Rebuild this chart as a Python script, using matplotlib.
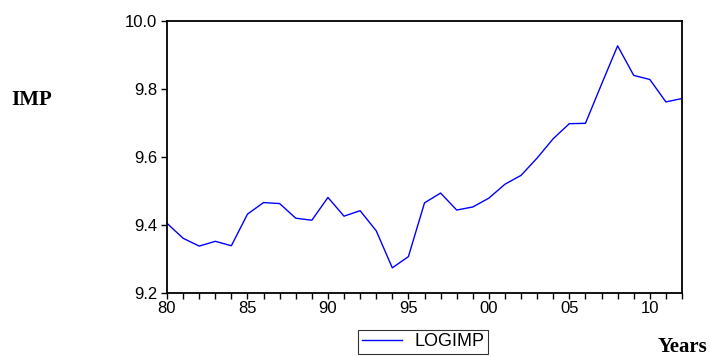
"""LOGIMP series, EViews-style line chart."""

import matplotlib
matplotlib.use("Agg")
import matplotlib.pyplot as plt
from matplotlib.ticker import MultipleLocator, FuncFormatter

years = list(range(1980, 2013))
logimp = [9.405, 9.361, 9.338, 9.352, 9.339, 9.432, 9.466, 9.463, 9.420,
          9.414, 9.481, 9.426, 9.442, 9.383, 9.274, 9.307, 9.465, 9.494,
          9.444, 9.453, 9.479, 9.520, 9.546, 9.597, 9.654, 9.698, 9.699,
          9.814, 9.927, 9.840, 9.828, 9.762, 9.772]
y_ticks = [9.2, 9.4, 9.6, 9.8, 10.0]

plt.rcParams["font.family"] = ["Liberation Sans", "DejaVu Sans"]

fig = plt.figure(figsize=(7.1, 3.56), dpi=100)
ax = fig.add_axes([167 / 710, 63 / 356, 515 / 710, 272 / 356])

line, = ax.plot(years, logimp, color="#0000ff", lw=1.0)

ax.set_xlim(1980, 2012)
ax.set_ylim(9.2, 10.0)
ax.set_yticks(y_ticks)
ax.yaxis.set_major_formatter(FuncFormatter(lambda v, p: f"{v:.1f}"))
ax.xaxis.set_major_locator(MultipleLocator(5))
ax.xaxis.set_minor_locator(MultipleLocator(1))
ax.xaxis.set_major_formatter(FuncFormatter(lambda v, p: f"{int(v) % 100:02d}"))

ax.tick_params(axis="both", which="both", direction="out", length=4,
               width=1, labelsize=12, colors="black")
ax.tick_params(axis="x", pad=2)
ax.tick_params(axis="y", pad=3)
for s in ax.spines.values():
    s.set_linewidth(1.3)

fig.text(11 / 710, 1 - 100 / 356, "IMP", family="Liberation Serif",
         fontweight="bold", fontsize=15, va="center", ha="left")
fig.text(707 / 710, 1 - 352 / 356, "Years", family="Liberation Serif",
         fontweight="bold", fontsize=15, va="baseline", ha="right")

leg = fig.legend([line], ["LOGIMP"], loc="center",
                 bbox_to_anchor=(423 / 710, 1 - 342 / 356),
                 prop={"size": 13}, frameon=True, fancybox=False,
                 handlelength=2.2, handletextpad=0.7, borderpad=0.2,
                 borderaxespad=0)
leg.get_frame().set_edgecolor("black")
leg.get_frame().set_linewidth(0.8)

fig.savefig("out.png", dpi=100)
plt.close(fig)
